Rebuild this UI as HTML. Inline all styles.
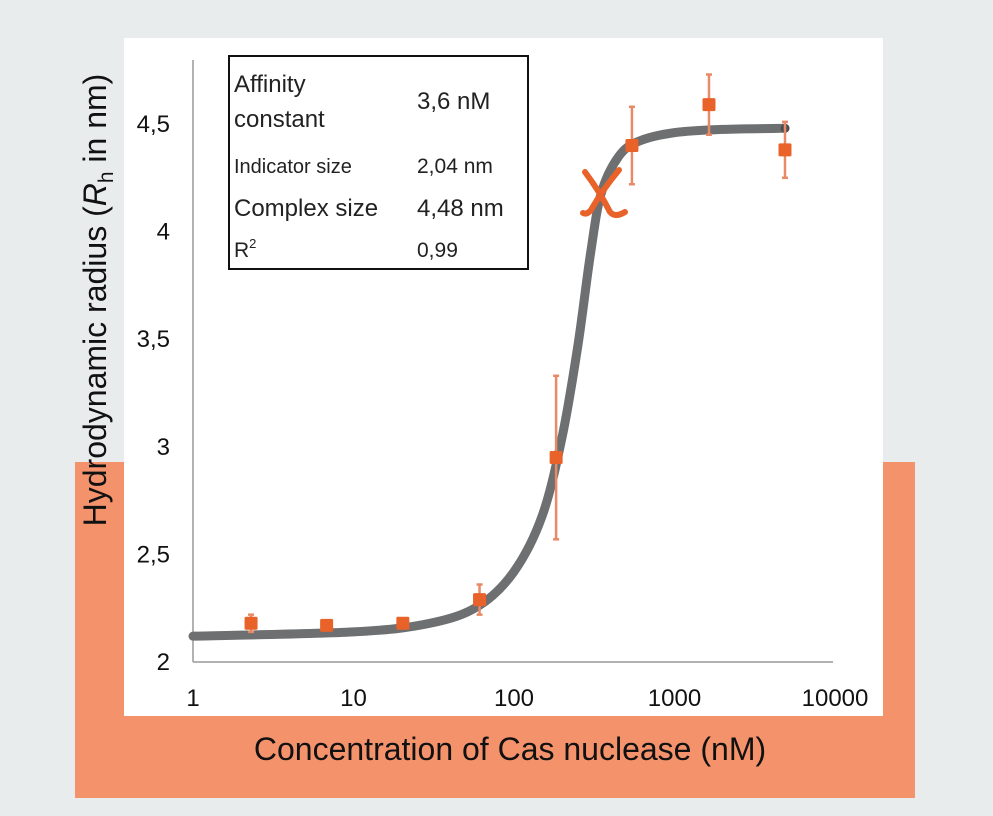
<!DOCTYPE html>
<html><head><meta charset="utf-8"><style>
body{margin:0;width:993px;height:816px;background:#e9ecec;overflow:hidden;font-family:"Liberation Sans",sans-serif}
</style></head><body>
<svg width="993" height="816" style="position:absolute;left:0;top:0">
<rect x="75" y="462" width="840" height="336" fill="#f4926c"/>
<rect x="124" y="38" width="759" height="678" fill="#fff"/>
<line x1="193" y1="60" x2="193" y2="662" stroke="#999" stroke-width="1.5"/>
<line x1="193" y1="662" x2="833" y2="662" stroke="#999" stroke-width="1.5"/>
<g id="ticks"></g>
<path id="curve" fill="none" stroke="#6d6f70" stroke-width="9" stroke-linecap="round"/>
<circle id="enddot" r="4.5" fill="#4a4f55"/>
<g id="pts"></g>
<g stroke="#e8622a" stroke-width="6" fill="none" stroke-linecap="round">
<path d="M585 172 Q600 192 610 212 Q615 218 625 212"/>
<path d="M619 170 Q603 189 591 210 Q587 215 583 213"/>
</g>
<g font-size="24" fill="#222">
<rect x="229" y="56" width="299" height="213" fill="#fff" stroke="#111" stroke-width="2"/>
<text x="234" y="92">Affinity</text><text x="234" y="127">constant</text>
<text x="417" y="109">3,6 nM</text>
<text x="234" y="173" font-size="20">Indicator size</text><text x="417" y="173" font-size="21">2,04 nm</text>
<text x="234" y="216">Complex size</text><text x="417" y="216">4,48 nm</text>
<text x="234" y="257" font-size="21">R<tspan font-size="13" dy="-9">2</tspan></text><text x="417" y="257" font-size="21">0,99</text>
</g>
<text x="0" y="0" transform="translate(106,300) rotate(-90)" text-anchor="middle" font-size="32" fill="#111">Hydrodynamic radius (<tspan font-style="italic">R</tspan><tspan font-size="21" dy="7">h</tspan><tspan dy="-7"> in nm)</tspan></text>
<text x="510" y="760" text-anchor="middle" font-size="32" fill="#111">Concentration of Cas nuclease (nM)</text>
</svg>
<script>
const xTicks=[1,10,100,1000,10000];
const xTickLabels=["1","10","100","1000","10000"];
const yTicks=[2,2.5,3,3.5,4,4.5];
const yTickLabels=["2","2,5","3","3,5","4","4,5"];
const concentrations=[2.3,6.8,20.3,61,183,543,1640,4880];
const radii=[2.18,2.17,2.18,2.29,2.95,4.40,4.59,4.38];
const errors=[0.04,0.015,0.015,0.07,0.38,0.18,0.14,0.13];
const fitX=[1,10,30,60,100,150,200,250,300,350,450,600,1000,2000,4880];
const fitY=[2.12,2.14,2.18,2.26,2.42,2.68,3.05,3.47,3.9,4.18,4.35,4.42,4.46,4.475,4.48];
const X=v=>193+Math.log10(v)*160.5;
const Y=v=>662-(v-2)*215.2;
const NS="http://www.w3.org/2000/svg";
const tg=document.getElementById('ticks');
xTicks.forEach((t,i)=>{const e=document.createElementNS(NS,'text');
e.setAttribute('x',X(t));e.setAttribute('y',706);e.setAttribute('text-anchor','middle');e.setAttribute('font-size','24');e.setAttribute('fill','#111');


e.textContent=xTickLabels[i];tg.appendChild(e);});
yTicks.forEach((t,i)=>{const e=document.createElementNS(NS,'text');
e.setAttribute('x',170);e.setAttribute('y',Y(t)+8);e.setAttribute('text-anchor','end');e.setAttribute('font-size','24');e.setAttribute('fill','#111');


e.textContent=yTickLabels[i];tg.appendChild(e);});
const P=fitX.map((x,i)=>[X(x),Y(fitY[i])]);
let d=`M${P[0][0]},${P[0][1]}`;
for(let i=0;i<P.length-1;i++){const p0=P[Math.max(0,i-1)],p1=P[i],p2=P[i+1],p3=P[Math.min(P.length-1,i+2)];
d+=` C${p1[0]+(p2[0]-p0[0])/6},${p1[1]+(p2[1]-p0[1])/6} ${p2[0]-(p3[0]-p1[0])/6},${p2[1]-(p3[1]-p1[1])/6} ${p2[0]},${p2[1]}`;}
document.getElementById('curve').setAttribute('d',d);
const ed=document.getElementById('enddot');ed.setAttribute('cx',P[P.length-1][0]);ed.setAttribute('cy',P[P.length-1][1]);
const pg=document.getElementById('pts');
concentrations.forEach((c,i)=>{const x=X(c),y=Y(radii[i]),t=Y(radii[i]+errors[i]),b=Y(radii[i]-errors[i]);
const g=document.createElementNS(NS,'g');


g.innerHTML=`<line x1="${x}" y1="${t}" x2="${x}" y2="${b}" stroke="#e88a66" stroke-width="2.5"/><line x1="${x-3}" y1="${t}" x2="${x+3}" y2="${t}" stroke="#e88a66" stroke-width="2.5"/><line x1="${x-3}" y1="${b}" x2="${x+3}" y2="${b}" stroke="#e88a66" stroke-width="2.5"/><rect x="${x-6.5}" y="${y-6.5}" width="13" height="13" rx="1.5" fill="#e8622a"/>`;
pg.appendChild(g);});
</script>
</body></html>
